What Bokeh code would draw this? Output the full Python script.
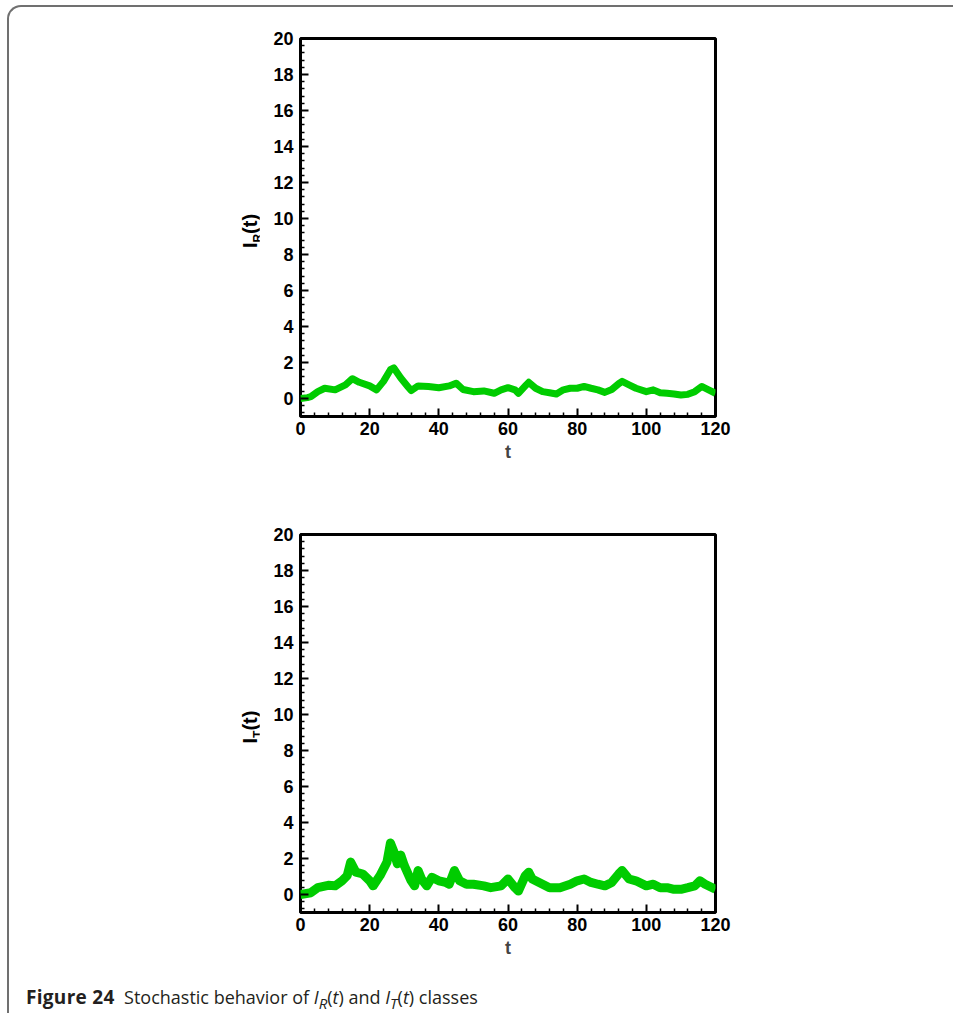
from bokeh.plotting import figure
from bokeh.models import FixedTicker, Div
from bokeh.layouts import column, row
from bokeh.embed import file_html
from bokeh.resources import INLINE

# ---- data ----
t_R = [0, 2, 3, 5, 7, 10, 13, 15, 17, 20, 22, 24, 26, 27, 29, 31, 32, 34, 37, 40,
       43, 45, 47, 50, 53, 56, 58, 60, 62, 63, 65, 66, 68, 70, 72, 74, 76, 78, 80, 82,
       84, 86, 88, 90, 92, 93, 95, 97, 100, 102, 104, 106, 108, 110, 112, 114, 116, 118, 120]
I_R = [0.0, 0.05, 0.1, 0.38, 0.57, 0.48, 0.76, 1.1, 0.9, 0.7, 0.48, 0.95, 1.6, 1.7, 1.14,
       0.67, 0.44, 0.7, 0.67, 0.6, 0.7, 0.85, 0.5, 0.38, 0.42, 0.29, 0.48, 0.6, 0.48, 0.29,
       0.7, 0.9, 0.57, 0.38, 0.32, 0.25, 0.48, 0.57, 0.57, 0.67, 0.57, 0.48, 0.34, 0.5, 0.82,
       0.95, 0.76, 0.57, 0.38, 0.48, 0.32, 0.29, 0.25, 0.19, 0.23, 0.38, 0.67, 0.48, 0.29]

t_T = [0, 3, 5, 8, 10, 12, 13.5, 14.5, 16, 18, 20, 21, 23, 25, 26, 27, 28, 29, 30, 32,
       33, 34, 35, 36.5, 38, 40, 42, 43, 44.5, 46, 48, 50, 53, 55, 58, 60, 62, 63, 65, 66,
       67, 69, 72, 75, 78, 80, 82, 84, 86, 88, 90, 92, 93, 95, 97, 100, 102, 104, 106, 108,
       110, 112, 114, 115.5, 117, 120]
I_T = [0.0, 0.1, 0.38, 0.51, 0.48, 0.76, 1.05, 1.8, 1.24, 1.14, 0.76, 0.48, 1.05, 1.8, 2.86,
       2.38, 1.71, 2.19, 1.62, 0.76, 0.48, 1.33, 0.86, 0.48, 0.95, 0.76, 0.67, 0.57, 1.33, 0.76,
       0.57, 0.57, 0.48, 0.38, 0.48, 0.86, 0.38, 0.19, 1.05, 1.24, 0.86, 0.67, 0.38, 0.38, 0.57,
       0.76, 0.86, 0.67, 0.57, 0.48, 0.67, 1.14, 1.33, 0.86, 0.76, 0.48, 0.57, 0.38, 0.38, 0.29,
       0.29, 0.38, 0.48, 0.76, 0.57, 0.29]

x_ticks = [0, 20, 40, 60, 80, 100, 120]
y_ticks = [0, 2, 4, 6, 8, 10, 12, 14, 16, 18, 20]
x_label = "t"
y_label_R = "I<sub>R</sub>(t)"
y_label_T = "I<sub>T</sub>(t)"
caption_bold = "Figure 24"
caption_html = ('Stochastic behavior of <i>I<sub>R</sub></i>(<i>t</i>) '
                'and <i>I<sub>T</sub></i>(<i>t</i>) classes')

GREEN = "#00cc00"
FONT = "Liberation Sans"
FW, FH = 415, 378
LABW = 250


def make_plot(t, v, top_border, lw):
    p = figure(frame_width=FW, frame_height=FH, x_range=(0, 120), y_range=(-1, 20),
               output_backend="svg", toolbar_location=None,
               min_border_left=41, min_border_right=238,
               min_border_top=top_border, min_border_bottom=60, margin=0)
    p.grid.visible = False
    p.outline_line_color = "black"
    p.outline_line_width = 3
    x_minor = [m for m in range(0, 121, 4) if m % 20 != 0]
    y_minor = [round(-0.8 + 0.4 * k, 1) for k in range(53)]
    y_minor = [m for m in y_minor if abs(m / 2 - round(m / 2)) > 1e-6]
    p.xaxis.ticker = FixedTicker(ticks=x_ticks, minor_ticks=x_minor)
    p.yaxis.ticker = FixedTicker(ticks=y_ticks, minor_ticks=y_minor)
    for ax in (p.xaxis[0], p.yaxis[0]):
        ax.axis_line_color = None
        ax.major_tick_in = 8
        ax.major_tick_out = 0
        ax.minor_tick_in = 4
        ax.minor_tick_out = 0
        ax.major_tick_line_width = 2
        ax.minor_tick_line_width = 1.5
        ax.major_label_text_font = FONT
        ax.major_label_text_font_style = "bold"
        ax.major_label_text_font_size = "18px"
        ax.major_label_text_color = "black"
    p.xaxis.major_label_standoff = 5
    p.yaxis.major_label_standoff = 7
    p.xaxis.axis_label = x_label
    p.xaxis.axis_label_text_font = FONT
    p.xaxis.axis_label_text_font_style = "bold"
    p.xaxis.axis_label_text_font_size = "18px"
    p.xaxis.axis_label_standoff = 4

    p.line(t, v, line_color=GREEN, line_width=lw, line_join="round")
    return p


def ylabel_div(html, height, cy):
    inner = ('<div style="position:relative;width:%dpx;height:%dpx;">'
             '<div style="position:absolute;left:243px;top:%dpx;'
             'transform:translate(-50%%,-50%%) rotate(-90deg);white-space:nowrap;'
             'font-family:\'Liberation Sans\';font-weight:bold;font-size:20px;line-height:1;color:black">'
             '%s</div></div>') % (LABW, height, cy, html.replace("<sub>", '<sub style="font-size:12px">'))
    return Div(text=inner, width=LABW, height=height, margin=0)


p1 = make_plot(t_R, I_R, 31, 7)
p2 = make_plot(t_T, I_T, 58, 9)
h1 = 31 + FH + 60
h2 = 58 + FH + 60

lab1 = ylabel_div(y_label_R, h1, 224)
lab2 = ylabel_div(y_label_T, h2, 251)

cap = Div(text=('<div style="font-family:\'Open Sans\';font-size:18px;color:#231f20;'
                'padding:12px 0 0 17px;white-space:nowrap">'
                '<b style="font-size:19px;letter-spacing:0.3px">' + caption_bold + '</b>&nbsp;&nbsp;'
                + caption_html + '</div>'),
          width=700, height=41, margin=0)

layout = column(row(lab1, p1), row(lab2, p2), cap,
                styles={"border-left": "2px solid #707070", "border-top": "2px solid #707070",
                        "border-top-left-radius": "14px", "margin-top": "5px",
                        "margin-left": "7px", "background": "white"})

open("out.html", "w").write(file_html(layout, INLINE))
